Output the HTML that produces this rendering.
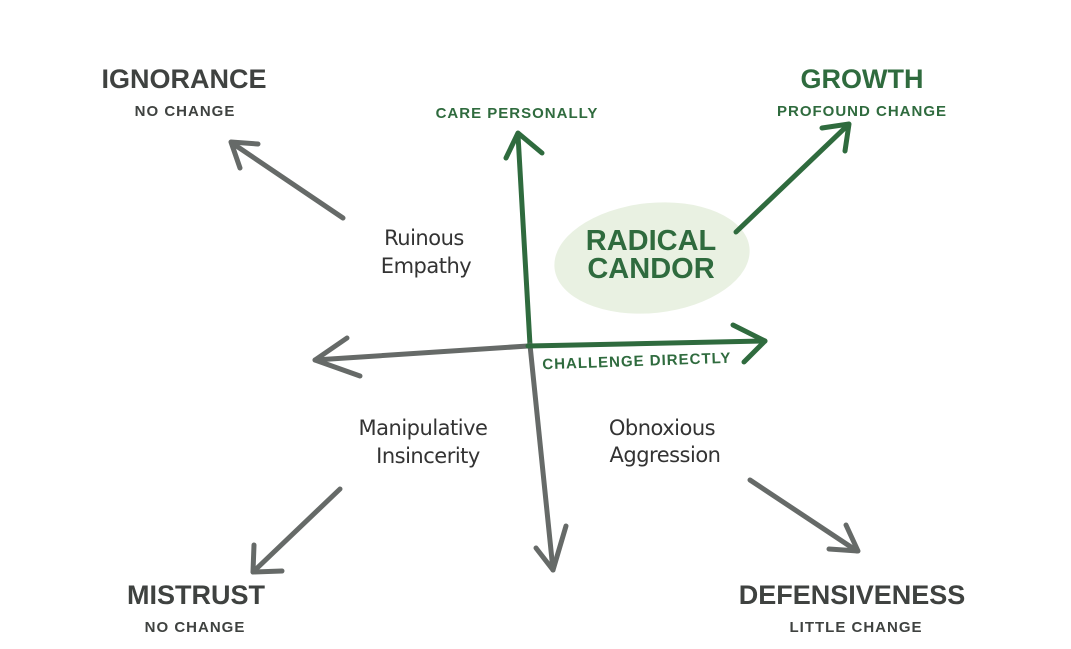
<!DOCTYPE html>
<html><head><meta charset="utf-8"><style>
html,body{margin:0;padding:0;background:#fff;width:1071px;height:649px;overflow:hidden}
svg{display:block}
.h{font-family:"Liberation Sans",sans-serif;font-weight:bold;text-anchor:middle}
.s{font-family:"Liberation Sans",sans-serif;font-weight:bold;text-anchor:middle;letter-spacing:1px}
.w{font-family:"DejaVu Sans","Liberation Sans",sans-serif;font-weight:normal;text-anchor:middle;fill:#333;font-size:21px;letter-spacing:-0.5px}
</style></head><body>
<svg width="1071" height="649" viewBox="0 0 1071 649" xmlns="http://www.w3.org/2000/svg">
<ellipse cx="652" cy="258" rx="98" ry="55" fill="#e9f1e2" transform="rotate(-6 652 258)"/>
<g fill="none" stroke-linecap="round" stroke-linejoin="round" stroke-width="5">
<!-- vertical axis -->
<path d="M518 135 L530 345" stroke="#2f6b3e"/>
<path d="M530 345 L553 570" stroke="#666a68"/>
<path d="M506 158 L518 133 L542 153" stroke="#2f6b3e"/>
<path d="M536 548 L553 570 L566 526" stroke="#666a68"/>
<!-- horizontal -->
<path d="M315 360 L528 346" stroke="#666a68"/>
<path d="M528 346 L765 341" stroke="#2f6b3e"/>
<path d="M347 338 L315 360 L360 376" stroke="#666a68"/>
<path d="M733 325 L765 341 L744 362" stroke="#2f6b3e"/>
<!-- diagonals -->
<path d="M343 218 L232 143" stroke="#666a68"/>
<path d="M240 168 L231 142 L258 144" stroke="#666a68"/>
<path d="M736 232 L848 125" stroke="#2f6b3e"/>
<path d="M822 128 L849 124 L845 151" stroke="#2f6b3e"/>
<path d="M340 489 L253 572" stroke="#666a68"/>
<path d="M254 545 L253 572 L282 571" stroke="#666a68"/>
<path d="M750 480 L857 551" stroke="#666a68"/>
<path d="M846 525 L858 551 L829 549" stroke="#666a68"/>
</g>
<text class="h" x="184" y="88" font-size="27" fill="#3f4240">IGNORANCE</text>
<text class="s" x="185" y="116" font-size="15" fill="#3f4240">NO CHANGE</text>
<text class="h" x="862" y="88" font-size="27" fill="#2f6b3e">GROWTH</text>
<text class="s" x="862" y="116" font-size="15" fill="#2f6b3e">PROFOUND CHANGE</text>
<text class="h" x="196" y="604" font-size="27" fill="#3f4240">MISTRUST</text>
<text class="s" x="195" y="632" font-size="15" fill="#3f4240">NO CHANGE</text>
<text class="h" x="852" y="604" font-size="27" fill="#3f4240">DEFENSIVENESS</text>
<text class="s" x="856" y="632" font-size="15" fill="#3f4240">LITTLE CHANGE</text>
<text class="s" x="517" y="118" font-size="15" fill="#2f6b3e">CARE PERSONALLY</text>
<text class="s" x="637" y="366" font-size="15" fill="#2f6b3e" transform="rotate(-2 637 366)">CHALLENGE DIRECTLY</text>
<text class="h" x="651" y="250" font-size="29" fill="#2f6b3e">RADICAL</text>
<text class="h" x="651" y="278" font-size="29" fill="#2f6b3e">CANDOR</text>
<text class="w" x="424" y="245">Ruinous</text>
<text class="w" x="426" y="273">Empathy</text>
<text class="w" x="423" y="435">Manipulative</text>
<text class="w" x="428" y="463">Insincerity</text>
<text class="w" x="662" y="435">Obnoxious</text>
<text class="w" x="665" y="462">Aggression</text>
</svg>
</body></html>
